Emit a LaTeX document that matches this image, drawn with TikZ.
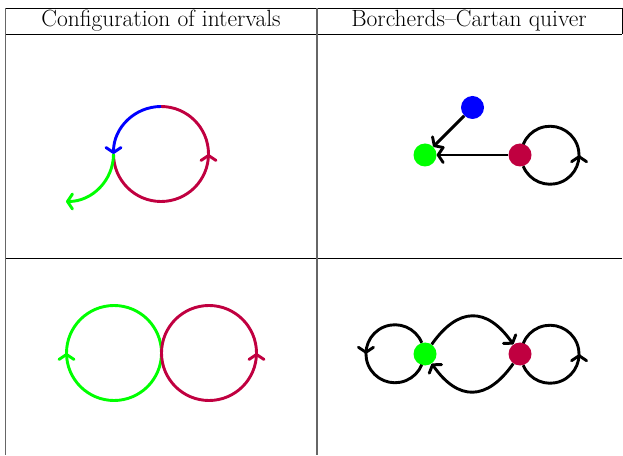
\documentclass[tikz,border=0pt]{standalone}
\usetikzlibrary{arrows.meta,decorations.markings}
\definecolor{crimson}{RGB}{192,0,64}
\definecolor{vgreen}{RGB}{0,255,0}
\definecolor{vblue}{RGB}{0,0,255}
\tikzset{
  curve/.style={line width=2.9pt},
  barb/.tip={Straight Barb[length=5pt,width=15pt,round]},
  tip/.style={-barb},
  midarrow/.style={postaction={decorate},
    decoration={markings,mark=at position #1 with {\arrow{barb}}}},
  vertex/.style={circle,fill=#1,minimum size=23pt,inner sep=0pt},
}
\begin{document}
\begin{tikzpicture}[x=1pt,y=1pt]
\useasboundingbox (0,0) rectangle (623,455);
% table
\draw[line width=0.9pt] (5.5,447) -- (622,447);
\draw[line width=0.9pt] (5.5,421) -- (622,421);
\draw[line width=0.9pt] (5.5,197) -- (622,197);
\draw[black!60,line width=1.5pt] (5.5,447) -- (5.5,0);
\draw[black!60,line width=1.5pt] (317,447) -- (317,0);
\draw[line width=0.9pt] (622,447) -- (622,421);
\node (head1) at (161,434) {\fontsize{23.5}{27}\selectfont Configuration of intervals};
\node (head2) at (469,434) {\fontsize{23.5}{27}\selectfont Borcherds--Cartan quiver};

% top left: intervals
\coordinate (top) at (161,348.5);
\coordinate (left) at (113.5,301);
\draw[curve,crimson,midarrow=0.6667] (left) arc[start angle=180,end angle=450,radius=47.5];
\draw[curve,vblue,tip] (top) arc[start angle=90,end angle=180,radius=47.5];
\draw[curve,vgreen,tip] (left) arc[start angle=0,end angle=-90,radius=47.5];

% top right: quiver
\node[vertex=vblue] (b) at (472.5,347.5) {};
\node[vertex=vgreen] (g) at (425,300) {};
\node[vertex=crimson] (r) at (520,300) {};
\draw[curve,tip] (b) -- (g);
\draw[curve,tip] (r) -- (g);
\draw[curve,midarrow=0.5] (r.-74) arc[start angle=202.3,end angle=517.7,radius=29];

% bottom left: intervals
\coordinate (mid) at (161.5,102);
\draw[curve,vgreen,midarrow=0.5] (mid) arc[start angle=0,end angle=-360,radius=47.5];
\draw[curve,crimson,midarrow=0.5] (mid) arc[start angle=180,end angle=540,radius=47.5];

% bottom right: quiver
\node[vertex=vgreen] (g2) at (425,101) {};
\node[vertex=crimson] (r2) at (520,101) {};
\draw[curve,tip] (g2) to[out=55,in=125,looseness=1.45] (r2);
\draw[curve,tip] (r2) to[out=-125,in=-55,looseness=1.45] (g2);
\draw[curve,midarrow=0.5] (g2.106) arc[start angle=22.3,end angle=337.7,radius=29];
\draw[curve,midarrow=0.5] (r2.-74) arc[start angle=202.3,end angle=517.7,radius=29];
\end{tikzpicture}
\end{document}
